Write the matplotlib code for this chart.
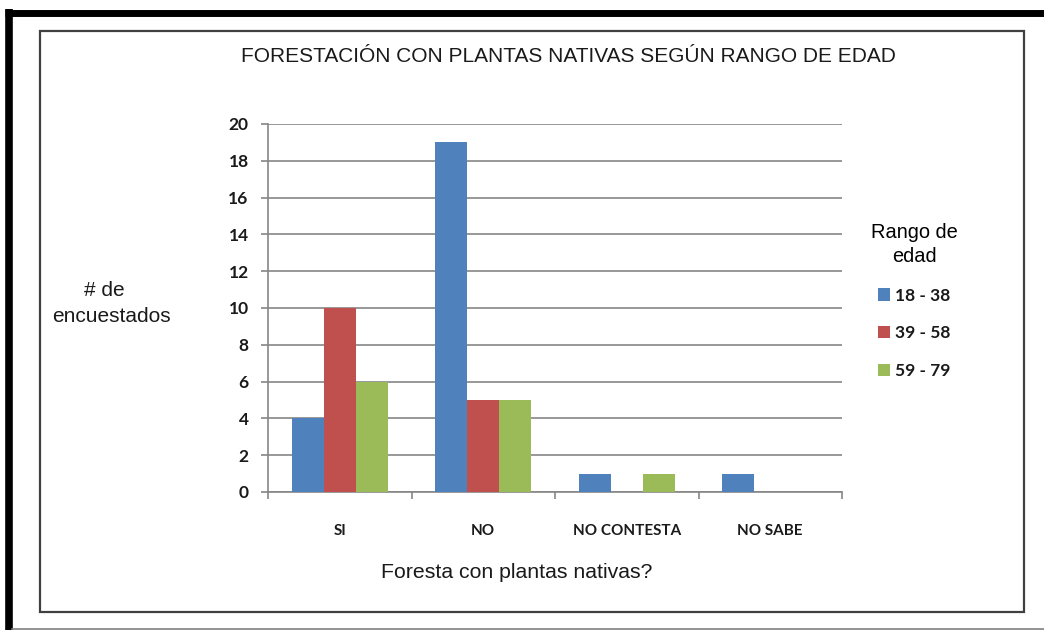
import numpy as np
import matplotlib.pyplot as plt
from matplotlib.lines import Line2D
from matplotlib.patches import Rectangle

categories = ['SI', 'NO', 'NO CONTESTA', 'NO SABE']
series = ['18 - 38', '39 - 58', '59 - 79']
values = {
    '18 - 38': [4, 19, 1, 1],
    '39 - 58': [10, 5, 0, 0],
    '59 - 79': [6, 5, 1, 0],
}
colors = ['#4F81BD', '#C0504D', '#9BBB59']
yticks = [0, 2, 4, 6, 8, 10, 12, 14, 16, 18, 20]

W, H = 1044, 630
fig = plt.figure(figsize=(W / 100, H / 100), dpi=100)


def fx(px):
    return px / W


def fy(py):
    return 1 - py / H


# outer frame lines and inner chart box
fig.add_artist(Line2D([fx(5), fx(1044)], [fy(12.5), fy(12.5)], color='black', lw=5, solid_capstyle='butt'))
fig.add_artist(Line2D([fx(8.5), fx(8.5)], [fy(9), fy(630)], color='black', lw=5.5, solid_capstyle='butt'))
fig.add_artist(Line2D([fx(12), fx(1044)], [fy(629), fy(629)], color='#808080', lw=1.2))
fig.add_artist(Rectangle((fx(40), fy(612)), fx(1024) - fx(40), fy(31) - fy(612),
                         fill=False, edgecolor='#404040', lw=1.6))

ax = fig.add_axes([fx(268), fy(492), fx(842) - fx(268), fy(124) - fy(492)])

x = np.arange(len(categories))
bw = 1 / 4.5
for i, (s, c) in enumerate(zip(series, colors)):
    ax.bar(x + (i - 1) * bw, values[s], width=bw, color=c, label=s, zorder=3)

ax.set_xlim(-0.5, len(categories) - 0.5)
ax.set_ylim(0, 20)
ax.set_yticks(yticks)
ax.set_xticks(x)
ax.set_xticklabels(categories)
ax.set_xticks(np.arange(-0.5, len(categories)), minor=True)

ax.grid(axis='y', color='#868686', lw=1.2, zorder=0)
for s in ['top', 'right']:
    ax.spines[s].set_visible(False)
for s in ['left', 'bottom']:
    ax.spines[s].set_color('#868686')
    ax.spines[s].set_linewidth(1.2)

ax.tick_params(axis='y', length=5, width=1.2, color='#868686', pad=9)
ax.tick_params(axis='x', which='major', length=0, pad=23)
ax.tick_params(axis='x', which='minor', length=5, width=1.2, color='#868686')
for lab in ax.get_yticklabels():
    lab.set_fontsize(12.5)
for lab in ax.get_xticklabels():
    lab.set_fontsize(11)
for lab in ax.get_yticklabels() + ax.get_xticklabels():
    lab.set_fontfamily('Lato')
    lab.set_fontweight('bold')
    lab.set_color('#1a1a1a')

txt = dict(family='Liberation Sans', color='#1a1a1a', va='center', ha='center')
fig.text(fx(568), fy(57), 'FORESTACIÓN CON PLANTAS NATIVAS SEGÚN RANGO DE EDAD', fontsize=15, **txt)
fig.text(fx(104), fy(291), '# de', fontsize=15, **txt)
fig.text(fx(111), fy(316), 'encuestados', fontsize=15, **txt)
fig.text(fx(517), fy(573), 'Foresta con plantas nativas?', fontsize=15.3, **txt)

leg = ax.legend(loc='upper left', bbox_to_anchor=(fx(855), fy(207)), bbox_transform=fig.transFigure,
                frameon=False, title='Rango de\nedad', handlelength=0.7, handleheight=0.7,
                handletextpad=0.3, labelspacing=1.25,
                prop=dict(family='Lato', weight='bold', size=12.5),
                title_fontproperties=dict(family='Liberation Sans', size=14.4))
leg.get_title().set_multialignment('center')
leg.get_title().set_linespacing(1.35)
for t in leg.get_texts():
    t.set_color('#1a1a1a')

fig.savefig('out.png', dpi=100)
